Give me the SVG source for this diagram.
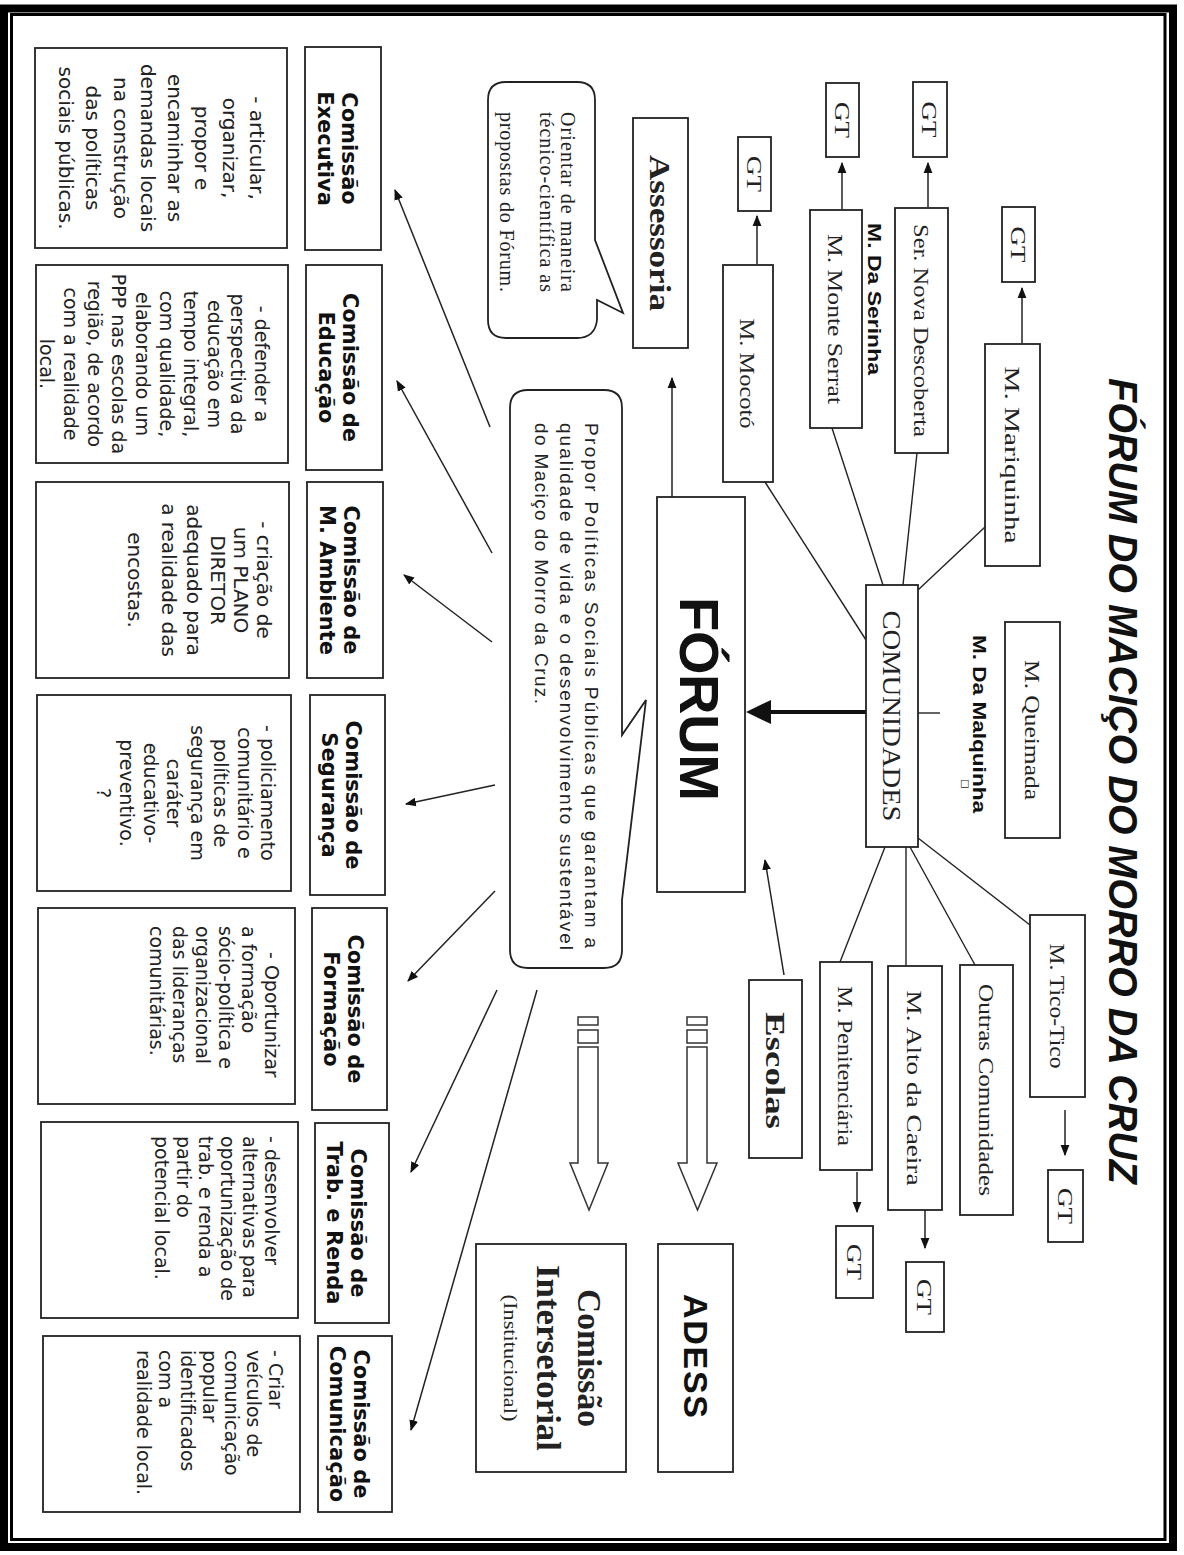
<svg xmlns="http://www.w3.org/2000/svg" width="1184" height="1555" viewBox="0 0 1184 1555">
<defs>
<style>
.bx{fill:#fff;stroke:#222;stroke-width:1.8}
.ln{fill:none;stroke:#222;stroke-width:1.4}
.ar{fill:none;stroke:#222;stroke-width:1.5;marker-end:url(#ah)}
.desc{font-family:"DejaVu Sans",sans-serif;fill:#222}
.lbl{font-family:"DejaVu Sans",sans-serif;font-weight:bold;font-size:21px;fill:#111}
.ser{font-family:"Liberation Serif",serif;fill:#222}
.gt{font-family:"Liberation Serif",serif;font-size:22px;fill:#222}
.bld{font-family:"Liberation Sans",sans-serif;font-weight:bold;fill:#111}
</style>
<marker id="ah" viewBox="0 0 10 10" refX="9" refY="5" markerWidth="11" markerHeight="11" markerUnits="userSpaceOnUse" orient="auto"><path d="M0,1 L10,5 L0,9 Z" fill="#111"/></marker>
</defs>
<rect width="1184" height="1555" fill="#fff"/>
<!-- page border -->
<rect x="4" y="8.5" width="1169" height="1538.5" fill="none" stroke="#000" stroke-width="8"/>
<rect x="11.5" y="14.5" width="1153.5" height="1525" fill="none" stroke="#000" stroke-width="3"/>

<g id="title">
<text class="bld" font-style="italic" font-size="40" transform="rotate(90)" x="378" y="-1109" textLength="806" lengthAdjust="spacingAndGlyphs">FÓRUM DO MACIÇO DO MORRO DA CRUZ</text>
</g>

<g id="connectors">
<line class="ln" x1="918" y1="590" x2="985" y2="527"/>
<line class="ln" x1="903" y1="585" x2="917" y2="453"/>
<line class="ln" x1="883" y1="585" x2="832" y2="428"/>
<line class="ln" x1="866" y1="640" x2="765" y2="482"/>
<line class="ln" x1="918" y1="838" x2="1030" y2="925"/>
<line class="ln" x1="910" y1="847" x2="975" y2="965"/>
<line class="ln" x1="906" y1="847" x2="906" y2="966"/>
<line class="ln" x1="885" y1="847" x2="840" y2="962"/>
<line class="ln" x1="918" y1="713" x2="940" y2="713"/>
<!-- GT arrows -->
<line class="ar" x1="1022" y1="343" x2="1022" y2="288"/>
<line class="ar" x1="928" y1="207" x2="928" y2="163"/>
<line class="ar" x1="842" y1="209" x2="842" y2="163"/>
<line class="ar" x1="757" y1="264" x2="757" y2="216"/>
<line class="ar" x1="1065" y1="1110" x2="1065" y2="1155"/>
<line class="ar" x1="925" y1="1210" x2="925" y2="1248"/>
<line class="ar" x1="857" y1="1172" x2="857" y2="1212"/>
<!-- Comunidades to Forum thick arrow -->
<line x1="866" y1="712" x2="768" y2="712" stroke="#111" stroke-width="4"/>
<polygon points="746,712 771,700 771,724" fill="#111"/>
<!-- Forum to Assessoria, Escolas to Forum -->
<line class="ar" x1="672" y1="497" x2="672" y2="378"/>
<line class="ar" x1="784" y1="975" x2="765" y2="860"/>
<!-- bubble to comissoes -->
<line class="ar" x1="490" y1="427" x2="395" y2="190"/>
<line class="ar" x1="492" y1="553" x2="397" y2="381"/>
<line class="ar" x1="492" y1="642" x2="404" y2="575"/>
<line class="ar" x1="495" y1="785" x2="406" y2="804"/>
<line class="ar" x1="495" y1="891" x2="408" y2="981"/>
<line class="ar" x1="497" y1="990" x2="411" y2="1172"/>
<line class="ar" x1="537" y1="990" x2="411" y2="1430"/>
<!-- block arrows -->
<g fill="#fff" stroke="#333" stroke-width="1.5">
<rect x="578" y="1017" width="20" height="8"/>
<rect x="578" y="1030" width="20" height="13"/>
<polygon points="578,1047 598,1047 598,1163 608,1163 589,1210 570,1163 578,1163"/>
<rect x="687" y="1017" width="20" height="8"/>
<rect x="687" y="1030" width="20" height="13"/>
<polygon points="687,1047 707,1047 707,1163 717,1163 697.5,1210 678,1163 687,1163"/>
</g>
</g>

<!-- top communities and GT -->
<g id="gt-mariquinha"><rect class="bx" x="1002" y="207" width="33" height="75"/><text class="gt" transform="rotate(90)" x="226.5" y="-1010.8" textLength="36" lengthAdjust="spacingAndGlyphs">GT</text></g>
<g id="gt-nova"><rect class="bx" x="913" y="82" width="34" height="75"/><text class="gt" transform="rotate(90)" x="101.5" y="-922.3" textLength="36" lengthAdjust="spacingAndGlyphs">GT</text></g>
<g id="gt-monte"><rect class="bx" x="826" y="83" width="33" height="74"/><text class="gt" transform="rotate(90)" x="102" y="-834.8" textLength="36" lengthAdjust="spacingAndGlyphs">GT</text></g>
<g id="gt-mocoto"><rect class="bx" x="738" y="137" width="33" height="74"/><text class="gt" transform="rotate(90)" x="156" y="-746.8" textLength="36" lengthAdjust="spacingAndGlyphs">GT</text></g>
<g id="gt-tico"><rect class="bx" x="1048" y="1170" width="35" height="72"/><text class="gt" transform="rotate(90)" x="1188" y="-1057.8" textLength="36" lengthAdjust="spacingAndGlyphs">GT</text></g>
<g id="gt-alto"><rect class="bx" x="906" y="1262" width="38" height="70"/><text class="gt" transform="rotate(90)" x="1279" y="-917.3" textLength="36" lengthAdjust="spacingAndGlyphs">GT</text></g>
<g id="gt-peni"><rect class="bx" x="836" y="1226" width="37" height="72"/><text class="gt" transform="rotate(90)" x="1244" y="-846.8" textLength="36" lengthAdjust="spacingAndGlyphs">GT</text></g>

<g id="m-mariquinha"><rect class="bx" x="985" y="344" width="55" height="222"/><text class="ser" font-size="22" transform="rotate(90)" x="366.5" y="-1004.8" textLength="177" lengthAdjust="spacingAndGlyphs">M. Mariquinha</text></g>
<g id="ser-nova"><rect class="bx" x="895" y="208" width="53" height="245"/><text class="ser" font-size="22" transform="rotate(90)" x="224" y="-913.8" textLength="213" lengthAdjust="spacingAndGlyphs">Ser. Nova Descoberta</text></g>
<g id="m-monte"><rect class="bx" x="810" y="210" width="52" height="218"/><text class="ser" font-size="22" transform="rotate(90)" x="234" y="-828.3" textLength="170" lengthAdjust="spacingAndGlyphs">M. Monte Serrat</text></g>
<g id="m-mocoto"><rect class="bx" x="723" y="265" width="50" height="217"/><text class="ser" font-size="22" transform="rotate(90)" x="318.5" y="-740.3" textLength="110" lengthAdjust="spacingAndGlyphs">M. Mocotó</text></g>
<g id="m-serinha"><text class="bld" font-size="19" transform="rotate(90)" x="223" y="-868.35" textLength="152" lengthAdjust="spacingAndGlyphs">M. Da Serinha</text></g>
<g id="m-queimada"><rect class="bx" x="1005" y="622" width="55" height="216"/><text class="ser" font-size="22" transform="rotate(90)" x="660" y="-1024.8" textLength="140" lengthAdjust="spacingAndGlyphs">M. Queimada</text></g>
<g id="m-malquinha"><text class="bld" font-size="19" transform="rotate(90)" x="635" y="-973.35" textLength="178" lengthAdjust="spacingAndGlyphs">M. Da Malquinha</text><text font-family="DejaVu Sans" font-size="10" fill="#222" transform="rotate(90)" x="779" y="-961.5">□</text></g>
<g id="comunidades"><rect class="bx" x="866" y="585" width="52" height="262"/><text class="ser" font-size="25" transform="rotate(90)" x="610.5" y="-883.2" textLength="211" lengthAdjust="spacingAndGlyphs">COMUNIDADES</text></g>
<g id="m-tico"><rect class="bx" x="1030" y="915" width="55" height="182"/><text class="ser" font-size="22" transform="rotate(90)" x="943.5" y="-1049.8" textLength="125" lengthAdjust="spacingAndGlyphs">M. Tico-Tico</text></g>
<g id="outras"><rect class="bx" x="960" y="965" width="53" height="250"/><text class="ser" font-size="22" transform="rotate(90)" x="984" y="-978.8" textLength="212" lengthAdjust="spacingAndGlyphs">Outras Comunidades</text></g>
<g id="m-alto"><rect class="bx" x="888" y="966" width="54" height="244"/><text class="ser" font-size="22" transform="rotate(90)" x="990.5" y="-907.3" textLength="195" lengthAdjust="spacingAndGlyphs">M. Alto da Caeira</text></g>
<g id="m-peni"><rect class="bx" x="820" y="962" width="52" height="208"/><text class="ser" font-size="22" transform="rotate(90)" x="986" y="-838.3" textLength="160" lengthAdjust="spacingAndGlyphs">M. Penitenciária</text></g>
<g id="escolas"><rect class="bx" x="749" y="980" width="53" height="178"/><text class="ser" font-size="28" font-weight="bold" transform="rotate(90)" x="1012" y="-765.7" textLength="117" lengthAdjust="spacingAndGlyphs">Escolas</text></g>

<g id="assessoria"><rect class="bx" x="633" y="118" width="55" height="230"/><text class="ser" font-size="30" font-weight="bold" transform="rotate(90)" x="155" y="-650" textLength="156" lengthAdjust="spacingAndGlyphs">Assessoria</text></g>
<g id="bubble-assessoria">
<path class="bx" d="M506,82 H577 Q595,82 595,100 V240 L623,313 L597,300 V320 Q595,338 577,338 H506 Q488,338 488,320 V100 Q488,82 506,82 Z"/>
<text class="ser" font-size="20" transform="rotate(90)"><tspan x="112" y="-561" textLength="180">Orientar de maneira</tspan><tspan x="112" y="-540" textLength="180">técnico-científica as</tspan><tspan x="112" y="-500" textLength="180">propostas do Fórum.</tspan></text>
</g>
<g id="forum"><rect class="bx" x="657" y="497" width="88" height="395"/><text class="bld" font-size="56" transform="rotate(90)" x="597" y="-680.4" textLength="204">FÓRUM</text></g>
<g id="bubble-forum">
<path class="bx" d="M528,390 H604 Q622,390 622,408 V735 L646,700 L622,900 V950 Q622,968 604,968 H528 Q510,968 510,950 V408 Q510,390 528,390 Z"/>
<text font-family="Liberation Sans,sans-serif" font-size="19" fill="#222" transform="rotate(90)"><tspan x="423" y="-585.35" textLength="525">Propor Políticas Sociais Públicas que garantam a</tspan><tspan x="423" y="-560.35" textLength="527">qualidade de vida e o desenvolvimento sustentável</tspan><tspan x="423" y="-535.35" textLength="281">do Maciço do Morro da Cruz.</tspan></text>
</g>
<g id="adess"><rect class="bx" x="658" y="1244" width="75" height="228"/><text class="bld" font-size="34" transform="rotate(90)" x="1294" y="-683.6" textLength="124">ADESS</text></g>
<g id="intersetorial"><rect class="bx" x="476" y="1244" width="150" height="228"/>
<text class="ser" font-size="33" font-weight="bold" transform="rotate(90)"><tspan x="1289" y="-577.5" textLength="138" lengthAdjust="spacingAndGlyphs">Comissão</tspan><tspan x="1265" y="-536.5" textLength="186" lengthAdjust="spacingAndGlyphs">Intersetorial</tspan></text>
<text class="ser" font-size="19" transform="rotate(90)" x="1294.5" y="-504.4" textLength="127" lengthAdjust="spacingAndGlyphs">(Institucional)</text></g>

<!-- Comissoes labels -->
<g id="c-executiva"><rect class="bx" x="305" y="47" width="76" height="203"/><text class="lbl" text-anchor="middle" transform="rotate(90)"><tspan x="148.5" y="-341.65">Comissão</tspan><tspan x="148.5" y="-317.65">Executiva</tspan></text></g>
<g id="c-educacao"><rect class="bx" x="306" y="265" width="76" height="205"/><text class="lbl" text-anchor="middle" transform="rotate(90)"><tspan x="367.5" y="-342.65">Comissão de</tspan><tspan x="367.5" y="-318.65">Educação</tspan></text></g>
<g id="c-ambiente"><rect class="bx" x="307" y="482" width="76" height="196"/><text class="lbl" text-anchor="middle" transform="rotate(90)"><tspan x="580" y="-343.65">Comissão de</tspan><tspan x="580" y="-319.65">M. Ambiente</tspan></text></g>
<g id="c-seguranca"><rect class="bx" x="310" y="695" width="75" height="200"/><text class="lbl" text-anchor="middle" transform="rotate(90)"><tspan x="795" y="-346.15">Comissão de</tspan><tspan x="795" y="-322.15">Segurança</tspan></text></g>
<g id="c-formacao"><rect class="bx" x="312" y="908" width="75" height="202"/><text class="lbl" text-anchor="middle" transform="rotate(90)"><tspan x="1009" y="-348.15">Comissão de</tspan><tspan x="1009" y="-324.15">Formação</tspan></text></g>
<g id="c-trabalho"><rect class="bx" x="315" y="1123" width="74" height="200"/><text class="lbl" text-anchor="middle" transform="rotate(90)"><tspan x="1223" y="-350.65">Comissão de</tspan><tspan x="1223" y="-326.65">Trab. e Renda</tspan></text></g>
<g id="c-comunicacao"><rect class="bx" x="318" y="1336" width="74" height="176"/><text class="lbl" text-anchor="middle" transform="rotate(90)"><tspan x="1424" y="-353.65">Comissão de</tspan><tspan x="1424" y="-329.65">Comunicação</tspan></text></g>

<!-- descriptions -->
<g id="d-executiva"><rect class="bx" x="35" y="48" width="252" height="200"/><text class="desc" font-size="20" text-anchor="middle" transform="rotate(90)"><tspan x="148" y="-250">- articular,</tspan><tspan x="148" y="-222.7">organizar,</tspan><tspan x="148" y="-195.4">propor e</tspan><tspan x="148" y="-168.1">encaminhar as</tspan><tspan x="148" y="-140.9">demandas locais</tspan><tspan x="148" y="-113.6">na construção</tspan><tspan x="148" y="-86.3">das políticas</tspan><tspan x="148" y="-59">sociais públicas.</tspan></text></g>
<g id="d-educacao"><rect class="bx" x="36" y="265" width="252" height="198"/><text class="desc" font-size="19" text-anchor="middle" transform="rotate(90)"><tspan x="364" y="-255.35">- defender a</tspan><tspan x="364" y="-231.45">perspectiva da</tspan><tspan x="364" y="-207.55">educação em</tspan><tspan x="364" y="-183.65">tempo integral,</tspan><tspan x="364" y="-159.75">com qualidade,</tspan><tspan x="364" y="-135.85">elaborando um</tspan><tspan x="364" y="-111.95">PPP nas escolas da</tspan><tspan x="364" y="-88.05">região, de acordo</tspan><tspan x="364" y="-64.15">com a realidade</tspan><tspan x="364" y="-40.25">local.</tspan></text></g>
<g id="d-ambiente"><rect class="bx" x="36" y="482" width="253" height="196"/><text class="desc" font-size="20" text-anchor="middle" transform="rotate(90)"><tspan x="580" y="-257">- criação de</tspan><tspan x="580" y="-234">um PLANO</tspan><tspan x="580" y="-211">DIRETOR</tspan><tspan x="580" y="-187">adequado para</tspan><tspan x="580" y="-162">a realidade das</tspan><tspan x="580" y="-128">encostas.</tspan></text></g>
<g id="d-seguranca"><rect class="bx" x="37" y="695" width="254" height="196"/><text class="desc" font-size="19" text-anchor="middle" transform="rotate(90)"><tspan x="793" y="-261.35">- policiamento</tspan><tspan x="793" y="-237.85">comunitário e</tspan><tspan x="793" y="-214.35">políticas de</tspan><tspan x="793" y="-190.85">segurança em</tspan><tspan x="793" y="-167.35">caráter</tspan><tspan x="793" y="-143.85">educativo-</tspan><tspan x="793" y="-120.35">preventivo.</tspan><tspan x="793" y="-96.85">?</tspan></text></g>
<g id="d-formacao"><rect class="bx" x="38" y="908" width="257" height="196"/><text class="desc" font-size="19" transform="rotate(90)"><tspan x="952" y="-265.35">- Oportunizar</tspan><tspan x="926" y="-242.35">a formação</tspan><tspan x="926" y="-219.35">sócio-política e</tspan><tspan x="926" y="-196.35">organizacional</tspan><tspan x="926" y="-173.35">das lideranças</tspan><tspan x="926" y="-150.35">comunitárias.</tspan></text></g>
<g id="d-trabalho"><rect class="bx" x="41" y="1122" width="257" height="196"/><text class="desc" font-size="19" transform="rotate(90)"><tspan x="1136" y="-265.35">- desenvolver</tspan><tspan x="1136" y="-243.35">alternativas para</tspan><tspan x="1136" y="-221.35">oportunização de</tspan><tspan x="1136" y="-199.35">trab. e renda a</tspan><tspan x="1136" y="-177.35">partir do</tspan><tspan x="1136" y="-155.35">potencial local.</tspan></text></g>
<g id="d-comunicacao"><rect class="bx" x="43" y="1336" width="257" height="176"/><text class="desc" font-size="19" transform="rotate(90)"><tspan x="1350" y="-269.35">- Criar</tspan><tspan x="1350" y="-247.35">veículos de</tspan><tspan x="1350" y="-225.35">comunicação</tspan><tspan x="1350" y="-203.35">popular</tspan><tspan x="1350" y="-181.35">identificados</tspan><tspan x="1350" y="-159.35">com a</tspan><tspan x="1350" y="-137.35">realidade local.</tspan></text></g>
</svg>
